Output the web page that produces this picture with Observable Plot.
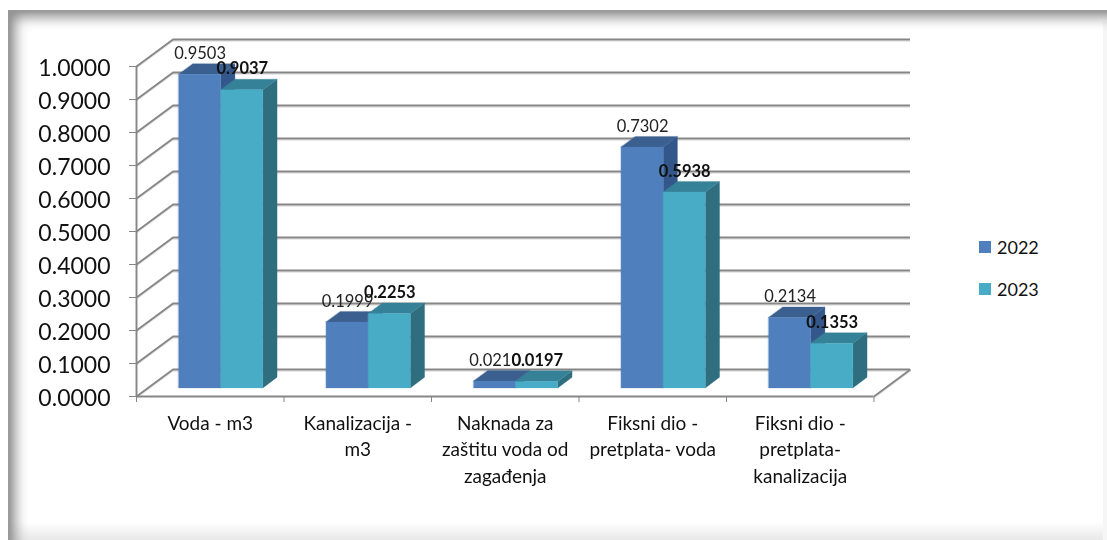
<!DOCTYPE html>
<html>
<head>
<meta charset="utf-8">
<script src="https://cdn.jsdelivr.net/npm/d3@7"></script>
<script src="https://cdn.jsdelivr.net/npm/@observablehq/plot@0.6"></script>
<style>
html,body{margin:0;padding:0;background:#fff;width:1107px;height:540px;overflow:hidden;font-family:Lato,sans-serif}
#bottom{position:absolute;left:8px;top:522px;width:1099px;height:18px;background:linear-gradient(#fff,#e8e8e8)}
#right{position:absolute;left:1103px;top:22px;width:4px;height:518px;background:#f6f6f6}
#frame{position:absolute;left:8px;top:10px;width:1130px;height:560px;box-shadow:inset 2px 2px 3px #999,inset 7px 7px 13px #8a8a8a}
#chart{position:absolute;left:0;top:0;filter:blur(0.35px)}
#legend{position:absolute;left:979px;top:227px;font-size:18px;color:#111}
#legend div{position:absolute;white-space:nowrap;line-height:20px}
#legend i{position:absolute;left:0;width:12px;height:12px}
#legend span{position:absolute;left:18px}
</style>
</head>
<body>
<div id="bottom"></div>
<div id="right"></div>
<div id="frame"></div>
<div id="chart"></div>
<div id="legend"></div>
<script>
const categories = ["Voda - m3","Kanalizacija -\nm3","Naknada za\nzaštitu voda od\nzagađenja","Fiksni dio -\npretplata- voda","Fiksni dio -\npretplata-\nkanalizacija"];
const years = ["2022","2023"];
const values2022 = [0.9503,0.1999,0.0210,0.7302,0.2134];
const values2023 = [0.9037,0.2253,0.0197,0.5938,0.1353];
const yTicks = [0,0.1,0.2,0.3,0.4,0.5,0.6,0.7,0.8,0.9,1];
const frontColors = ["#4f7fbc","#48acc6"];
const topColors = ["#3b6090","#358198"];
const sideColors = ["#33578a","#2f6e7e"];

// oblique projection of the 3D chart box: depth 0 = front floor edge, depth 1 = back wall
const depthX = 0.2476, depthY = 0.0819;
const depthNear = 0.30, depthFar = 0.69;
const barW = 1/3.5, gap = (1 - 2*barW)/2;
const px = (u,d) => u + d*depthX;
const py = (v,d) => v + d*depthY;

const faces = [];
categories.forEach((c,i) => {
  [values2022[i], values2023[i]].forEach((v,s) => {
    const a = i + gap + s*barW, b = a + barW;
    const face = (k, fill, r1, r2) => {
      faces.push({id:`${i}-${s}-${k}`, fill, x1:r1[0], y1:r1[1], x2:r1[2], y2:r1[3]});
      faces.push({id:`${i}-${s}-${k}`, fill, x1:r2[0], y1:r2[1], x2:r2[2], y2:r2[3]});
    };
    face("side", sideColors[s],
      [px(b,depthNear),py(v,depthNear),px(b,depthNear),py(0,depthNear)],
      [px(b,depthFar),py(v,depthFar),px(b,depthFar),py(0,depthFar)]);
    face("top", topColors[s],
      [px(a,depthFar),py(v,depthFar),px(a,depthNear),py(v,depthNear)],
      [px(b,depthFar),py(v,depthFar),px(b,depthNear),py(v,depthNear)]);
    face("front", frontColors[s],
      [px(a,depthNear),py(v,depthNear),px(a,depthNear),py(0,depthNear)],
      [px(b,depthNear),py(v,depthNear),px(b,depthNear),py(0,depthNear)]);
  });
});

const labelRows = s => (s ? values2023 : values2022).map((v,i) => ({
  x: px(i + gap + (s+0.5)*barW, depthNear), y: py(v,depthNear), t: d3.format(".4f")(v)
}));

const gridColor = "#868686";
const gridMarks = (stroke, dy, w) => [
  Plot.ruleY(yTicks, {y:d=>py(d,1), x1:px(0,1), x2:px(5,1), stroke, strokeWidth:w, dy}),
  Plot.link(yTicks, {x1:0, y1:d=>d, x2:px(0,1), y2:d=>py(d,1), stroke, strokeWidth:w, dy}),
  Plot.link([0], {x1:5, y1:0, x2:px(5,1), y2:py(0,1), stroke, strokeWidth:w, dy})
];

const chart = Plot.plot({
  width:1107, height:540,
  marginLeft:136, marginRight:197, marginTop:39, marginBottom:144,
  style:{background:"transparent", fontFamily:"Lato, sans-serif", overflow:"visible"},
  x:{domain:[0, 5 + depthX]},
  y:{domain:[0, 1 + depthY]},
  marks:[
    ...gridMarks("#e2e2e2", 1.6, 1.2),
    ...gridMarks(gridColor, 0, 1.9),
    Plot.ruleX([0], {y1:0, y2:1, stroke:gridColor, strokeWidth:1.9}),
    Plot.ruleY([0], {x1:0, x2:5, stroke:gridColor, strokeWidth:1.9}),
    Plot.axisY(yTicks, {anchor:"left", tickFormat:()=>"", tickSize:7, stroke:gridColor, label:null}),
    Plot.axisY(yTicks, {anchor:"left", tickFormat:d3.format(".4f"), tickSize:0, tickPadding:26, dy:2.5, fontSize:23, color:"#111", label:null}),
    Plot.axisX([0,1,2,3,4,5], {tickSize:6, tickFormat:()=>"", stroke:gridColor, label:null}),
    Plot.axisX(categories.map((c,i)=>i+0.5), {tickSize:0, tickPadding:15, fontSize:19, lineHeight:1.38, color:"#111", label:null,
      tickFormat:d=>categories[Math.floor(d)]}),
    Plot.area(faces, {x1:"x1", y1:"y1", x2:"x2", y2:"y2", z:"id", fill:"fill", stroke:"fill", strokeWidth:0.3}),
    Plot.text(labelRows(0), {x:"x", y:"y", text:"t", dy:-21, fontSize:16.5, fill:"#222"}),
    Plot.text(labelRows(1), {x:"x", y:"y", text:"t", dy:-21, fontSize:16.5, fontWeight:"bold", fill:"#111"})
  ]
});
document.getElementById("chart").append(chart);

const legend = d3.select("#legend");
years.forEach((y,i) => {
  const row = legend.append("div").style("top", (i*42)+"px");
  row.append("i").style("top","14px").style("background", frontColors[i]);
  row.append("span").style("top","10px").text(y);
});
</script>
</body>
</html>
